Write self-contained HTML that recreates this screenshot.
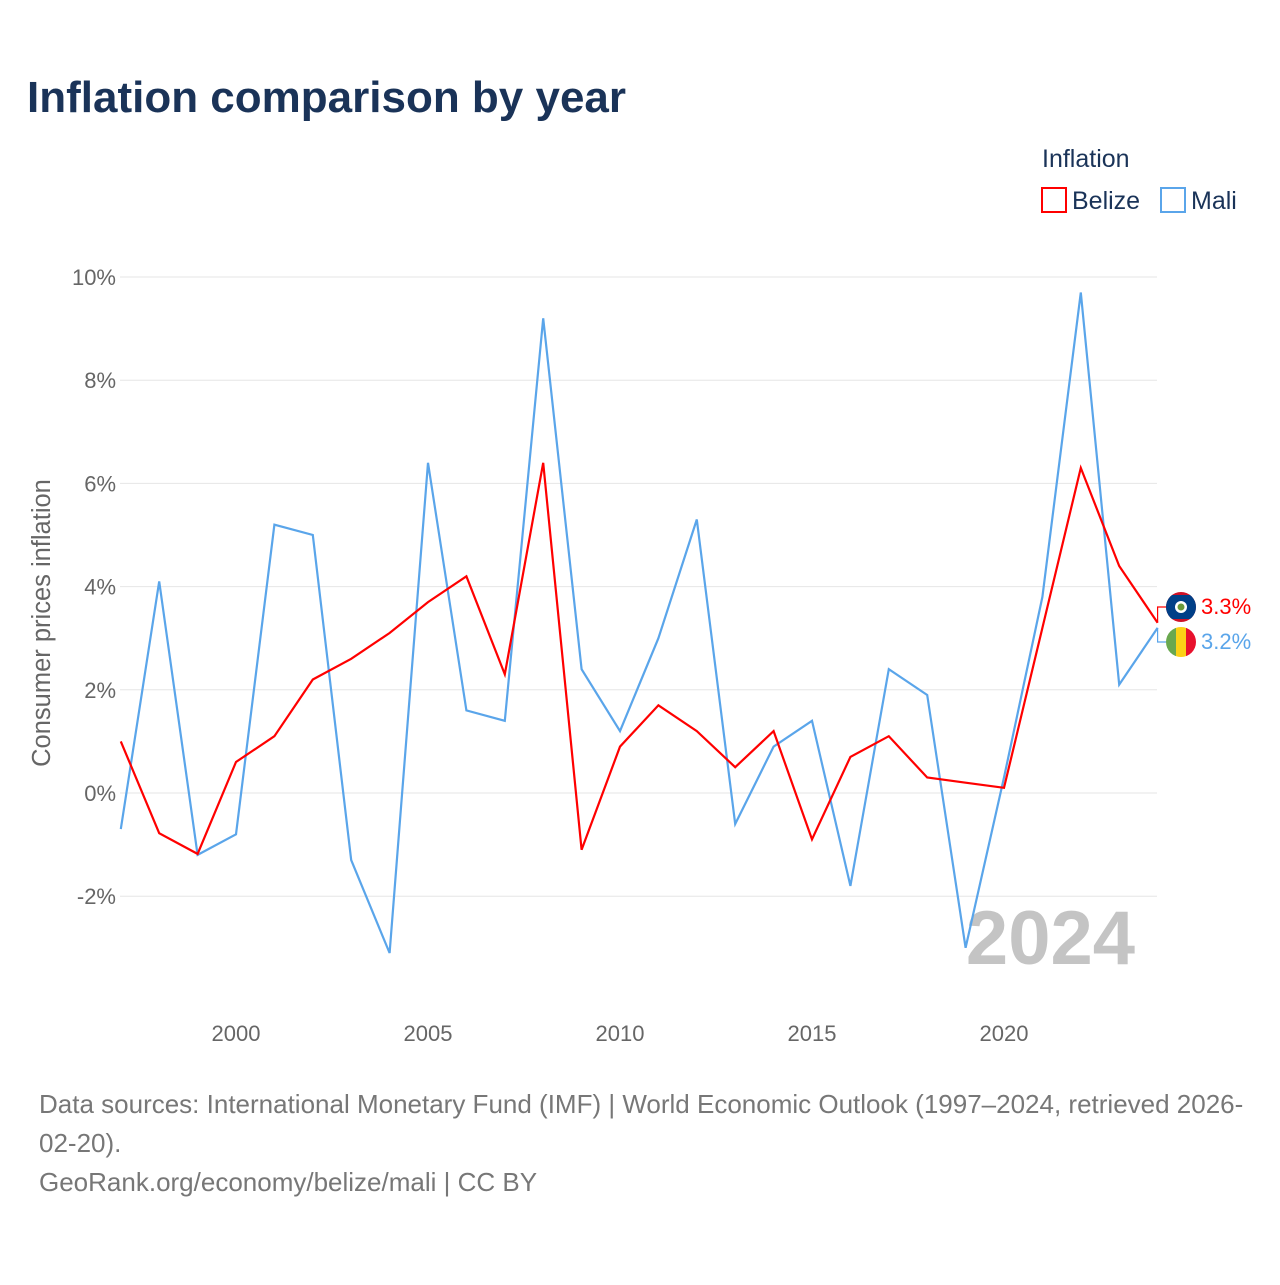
<!DOCTYPE html>
<html><head><meta charset="utf-8"><style>
body{margin:0;background:#fff;width:1280px;height:1280px;overflow:hidden;font-family:"Liberation Sans",sans-serif}
#root{position:relative;width:1280px;height:1280px}
</style></head><body><div id="root">
<svg id="chart" width="1280" height="1280"></svg>
</div>
<script>
const years=[1997,1998,1999,2000,2001,2002,2003,2004,2005,2006,2007,2008,2009,2010,2011,2012,2013,2014,2015,2016,2017,2018,2019,2020,2021,2022,2023,2024];
const belize=[1.0,-0.78,-1.18,0.6,1.1,2.2,2.6,3.1,3.7,4.2,2.3,6.4,-1.1,0.9,1.7,1.2,0.5,1.2,-0.9,0.7,1.1,0.3,0.2,0.1,3.2,6.3,4.4,3.3];
const mali=[-0.7,4.1,-1.2,-0.8,5.2,5.0,-1.3,-3.1,6.4,1.6,1.4,9.2,2.4,1.2,3.0,5.3,-0.6,0.9,1.4,-1.8,2.4,1.9,-3.0,0.3,3.8,9.7,2.1,3.2];
const yTicks=[-2,0,2,4,6,8,10];
const xTicks=[2000,2005,2010,2015,2020];
const NS="http://www.w3.org/2000/svg";
const svg=document.getElementById('chart');
const X=y=>120.8+(y-1997)*38.4;
const Y=v=>793-v*51.6;
function el(t,a,txt){const e=document.createElementNS(NS,t);for(const k in a)e.setAttribute(k,a[k]);if(txt!=null)e.textContent=txt;svg.appendChild(e);return e;}
let e;
e=el('text',{x:27,y:112,'font-size':44,'font-weight':'bold',fill:'#1a3358'},'Inflation comparison by year');


yTicks.forEach(t=>{
 e=el('line',{x1:120,x2:1157,y1:Y(t),y2:Y(t),stroke:'#e6e6e6','stroke-width':1});
 
 
 e=el('text',{x:116,y:Y(t)+8,'text-anchor':'end','font-size':22,fill:'#666'},t+'%');
 
 
});
xTicks.forEach(t=>{
 e=el('text',{x:X(t),y:1041,'text-anchor':'middle','font-size':22,fill:'#666'},String(t));
 
 
});
e=el('text',{x:50,y:623,'text-anchor':'middle','font-size':25.5,fill:'#666',transform:'rotate(-90 50 623)'},'Consumer prices inflation');


e=el('text',{x:1135,y:964,'text-anchor':'end','font-size':76,'font-weight':'bold',fill:'#c4c4c4'},'2024');


function line(vals,color,name){
 const d=vals.map((v,i)=>(i?'L':'M')+X(years[i]).toFixed(1)+','+Y(v).toFixed(1)).join(' ');
 const p=el('path',{d:d,fill:'none',stroke:color,'stroke-width':2.2,'stroke-linejoin':'miter'});
 
 
}
line(mali,'#5aa5ea','mali-line');
line(belize,'#ff0000','belize-line');
const lb=belize[belize.length-1], lm=mali[mali.length-1];
e=el('path',{d:`M${X(2024)},${Y(lb)} V607 H1166`,fill:'none',stroke:'#ff0000','stroke-width':1.2});


e=el('path',{d:`M${X(2024)},${Y(lm)} V642 H1166`,fill:'none',stroke:'#5aa5ea','stroke-width':1.2});


const g1=el('g',{});


g1.innerHTML='<clipPath id="c1"><circle cx="1181" cy="607" r="15"/></clipPath><g clip-path="url(#c1)"><rect x="1166" y="592" width="30" height="30" fill="#ce1126"/><rect x="1166" y="595" width="30" height="24" fill="#003f87"/><circle cx="1181" cy="607" r="6" fill="#fff"/><circle cx="1181" cy="607" r="3.5" fill="#6a9a3a"/></g>';
svg.appendChild(g1);
const g2=el('g',{});


g2.innerHTML='<clipPath id="c2"><circle cx="1181" cy="642" r="15"/></clipPath><g clip-path="url(#c2)"><rect x="1166" y="627" width="10" height="30" fill="#6aa84f"/><rect x="1176" y="627" width="10" height="30" fill="#fcd116"/><rect x="1186" y="627" width="10" height="30" fill="#e8112d"/></g>';
svg.appendChild(g2);
e=el('text',{x:1201,y:614,'font-size':22,fill:'#ff0000'},lb.toFixed(1)+'%');


e=el('text',{x:1201,y:649,'font-size':22,fill:'#5aa5ea'},lm.toFixed(1)+'%');


e=el('text',{x:1042,y:167,'font-size':25,fill:'#1a3358'},'Inflation');


e=el('rect',{x:1042,y:188,width:24,height:24,fill:'none',stroke:'#ff0000','stroke-width':2});


e=el('text',{x:1072,y:209,'font-size':25,fill:'#1a3358'},'Belize');


e=el('rect',{x:1161,y:188,width:24,height:24,fill:'none',stroke:'#5aa5ea','stroke-width':2});


e=el('text',{x:1191,y:209,'font-size':25,fill:'#1a3358'},'Mali');


const foot=['Data sources: International Monetary Fund (IMF) | World Economic Outlook (1997–2024, retrieved 2026-','02-20).','GeoRank.org/economy/belize/mali | CC BY'];
foot.forEach((t,i)=>{
 e=el('text',{x:39,y:1113+i*39,'font-size':26,fill:'#777'},t);
 
 
});
</script></body></html>
